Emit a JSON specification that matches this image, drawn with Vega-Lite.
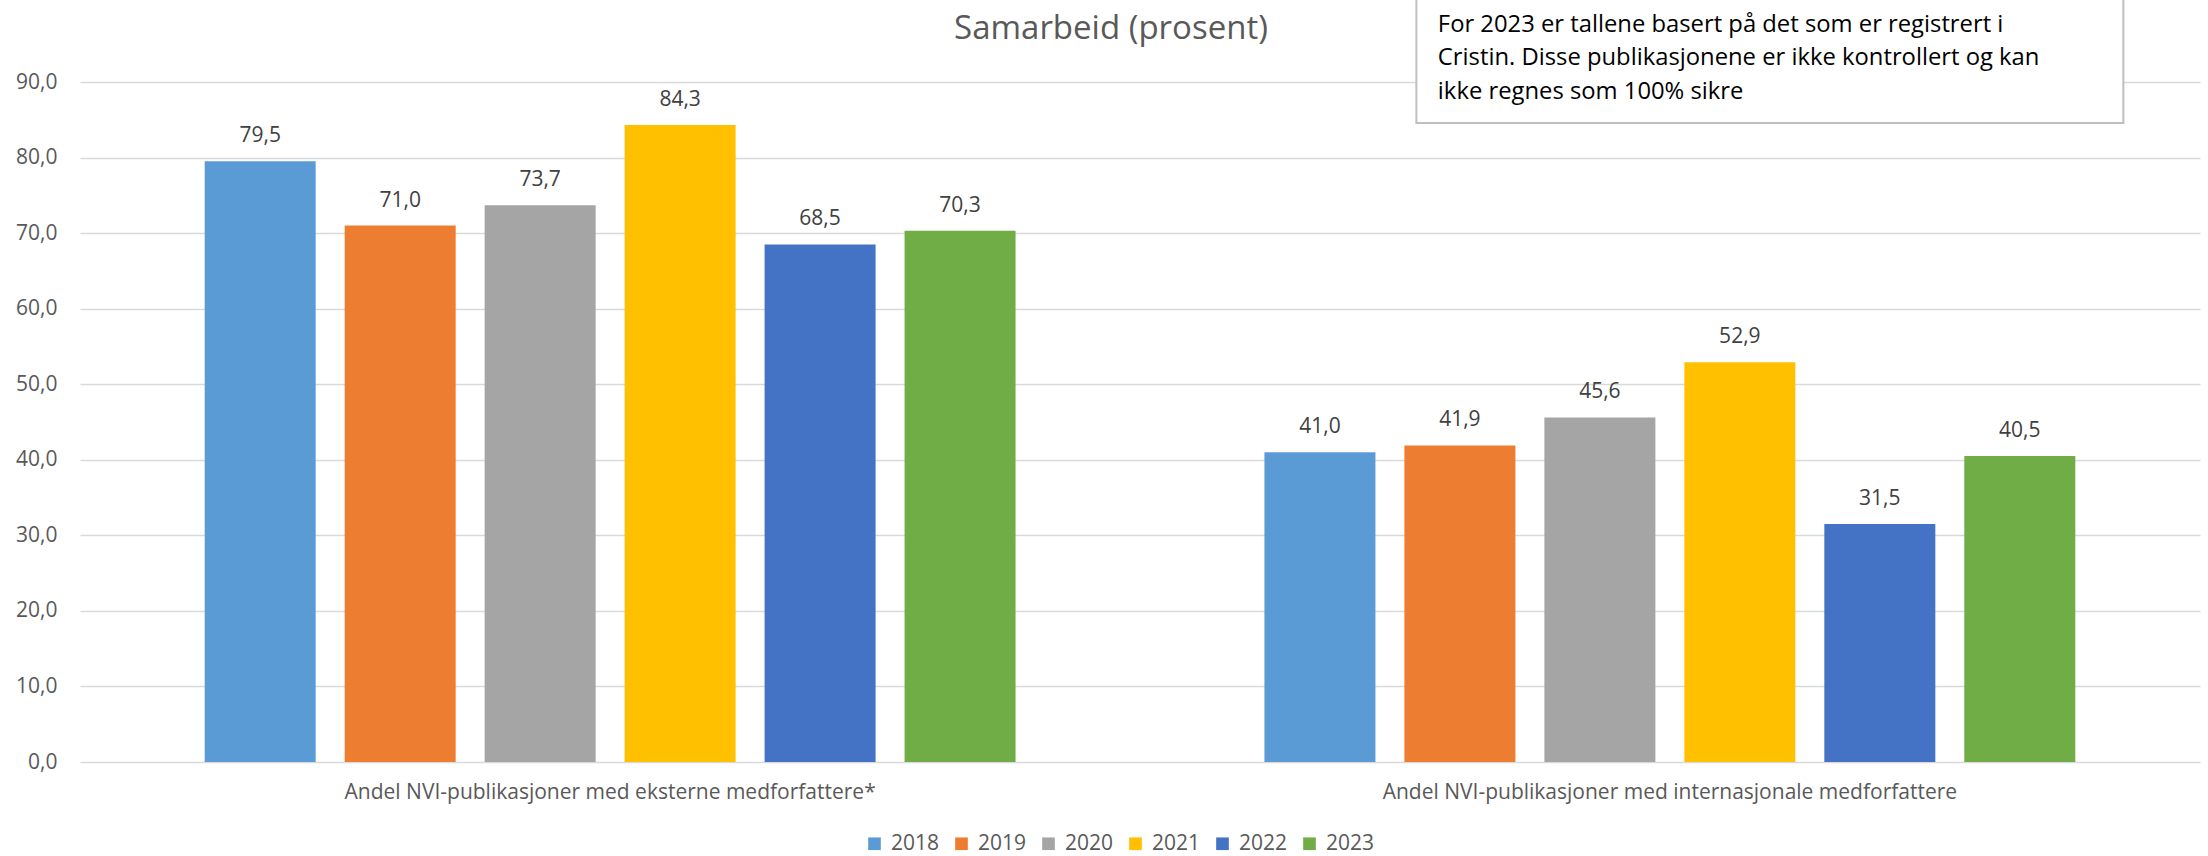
{
  "$schema": "https://vega.github.io/schema/vega-lite/v6.json",
  "width": 2120,
  "height": 680,
  "autosize": {"type": "none"},
  "padding": {"left": 80, "top": 82, "right": 8, "bottom": 94},
  "background": "white",
  "title": {
    "text": "Samarbeid (prosent)",
    "anchor": "middle",
    "dx": -29,
    "offset": -52,
    "fontSize": 33,
    "font": "Open Sans",
    "fontWeight": "normal",
    "color": "#595959"
  },
  "datasets": {
    "bars": [
      {"kategori": "Andel NVI-publikasjoner med eksterne medforfattere*", "år": "2018", "prosent": 79.5},
      {"kategori": "Andel NVI-publikasjoner med eksterne medforfattere*", "år": "2019", "prosent": 71.0},
      {"kategori": "Andel NVI-publikasjoner med eksterne medforfattere*", "år": "2020", "prosent": 73.7},
      {"kategori": "Andel NVI-publikasjoner med eksterne medforfattere*", "år": "2021", "prosent": 84.3},
      {"kategori": "Andel NVI-publikasjoner med eksterne medforfattere*", "år": "2022", "prosent": 68.5},
      {"kategori": "Andel NVI-publikasjoner med eksterne medforfattere*", "år": "2023", "prosent": 70.3},
      {"kategori": "Andel NVI-publikasjoner med internasjonale medforfattere", "år": "2018", "prosent": 41.0},
      {"kategori": "Andel NVI-publikasjoner med internasjonale medforfattere", "år": "2019", "prosent": 41.9},
      {"kategori": "Andel NVI-publikasjoner med internasjonale medforfattere", "år": "2020", "prosent": 45.6},
      {"kategori": "Andel NVI-publikasjoner med internasjonale medforfattere", "år": "2021", "prosent": 52.9},
      {"kategori": "Andel NVI-publikasjoner med internasjonale medforfattere", "år": "2022", "prosent": 31.5},
      {"kategori": "Andel NVI-publikasjoner med internasjonale medforfattere", "år": "2023", "prosent": 40.5}
    ],
    "note": [
      {"kategori": "Andel NVI-publikasjoner med internasjonale medforfattere", "topp": 101.5, "bunn": 84.57, "linje": 90, "tekst": ["For 2023 er tallene basert på det som er registrert i", "Cristin. Disse publikasjonene er ikke kontrollert og kan", "ikke regnes som 100% sikre"]}
    ]
  },
  "layer": [
    {
      "data": {"name": "bars"},
      "mark": {"type": "bar"},
      "encoding": {
        "x": {
          "field": "kategori",
          "type": "nominal",
          "sort": null,
          "title": null,
          "scale": {"paddingInner": 0.2075, "paddingOuter": 0.104},
          "axis": {
            "labelAngle": 0,
            "labelFontSize": 21,
            "labelFont": "Open Sans",
            "labelColor": "#595959",
            "labelLimit": 0,
            "labelPadding": 19,
            "ticks": false,
            "domain": false
          }
        },
        "y": {
          "field": "prosent",
          "type": "quantitative",
          "title": null,
          "scale": {"domain": [0, 90], "nice": false},
          "axis": {
            "values": [0, 10, 20, 30, 40, 50, 60, 70, 80, 90],
            "format": ".1f",
            "labelFontSize": 21,
            "labelFont": "Open Sans",
            "labelColor": "#595959",
            "labelPadding": 23,
            "ticks": false,
            "domain": false,
            "grid": true,
            "gridColor": "#D9D9D9",
            "gridWidth": 1.5
          }
        },
        "xOffset": {"field": "år", "type": "nominal", "scale": {"paddingInner": 0.207, "paddingOuter": 0.1035}},
        "color": {
          "field": "år",
          "type": "nominal",
          "scale": {
            "domain": ["2018", "2019", "2020", "2021", "2022", "2023"],
            "range": ["#5B9BD5", "#ED7D31", "#A5A5A5", "#FFC000", "#4472C4", "#70AD47"]
          },
          "legend": {
            "title": null,
            "orient": "none",
            "direction": "horizontal",
            "legendX": 784,
            "legendY": 751,
            "symbolType": "square",
            "symbolSize": 160,
            "symbolStrokeWidth": 0,
            "labelFontSize": 21,
            "labelFont": "Open Sans",
            "labelColor": "#595959",
            "labelOffset": 6,
            "columnPadding": 11
          }
        }
      }
    },
    {
      "data": {"name": "bars"},
      "mark": {"type": "text", "baseline": "alphabetic", "dy": -19, "fontSize": 21, "font": "Open Sans", "color": "#404040"},
      "encoding": {
        "x": {"field": "kategori", "type": "nominal", "sort": null},
        "y": {"field": "prosent", "type": "quantitative"},
        "xOffset": {"field": "år", "type": "nominal"},
        "text": {"field": "prosent", "type": "quantitative", "format": ".1f"}
      }
    },
    {
      "data": {"name": "note"},
      "mark": {"type": "rect", "fill": "white", "stroke": "#BFBFBF", "strokeWidth": 2, "width": 707, "xOffset": 100},
      "encoding": {
        "x": {"field": "kategori", "type": "nominal", "sort": null},
        "y": {"field": "topp", "type": "quantitative"},
        "y2": {"field": "bunn"}
      }
    },
    {
      "data": {"name": "note"},
      "mark": {"type": "text", "align": "left", "baseline": "alphabetic", "dx": -232, "dy": -50.3, "lineHeight": 33.8, "fontSize": 23.8, "font": "Open Sans", "color": "#000000"},
      "encoding": {
        "x": {"field": "kategori", "type": "nominal", "sort": null},
        "y": {"field": "linje", "type": "quantitative"},
        "text": {"field": "tekst"}
      }
    }
  ],
  "config": {
    "locale": {"number": {"decimal": ",", "thousands": " ", "grouping": [3], "currency": ["", " kr"]}},
    "view": {"stroke": null},
    "font": "Open Sans"
  }
}
